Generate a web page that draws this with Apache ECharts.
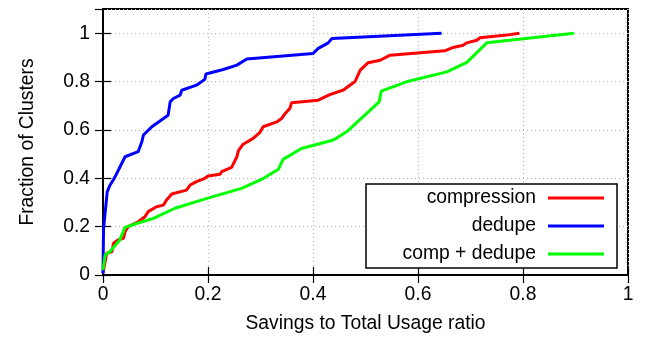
<!DOCTYPE html>
<html>
<head>
<meta charset="utf-8">
<script src="https://cdn.jsdelivr.net/npm/echarts@6/dist/echarts.min.js"></script>
<style>
html,body{margin:0;padding:0;background:#fff;}
#chart{width:645px;height:339px;}
</style>
</head>
<body>
<div id="chart"></div>
<script>
var seriesNames = ['compression', 'dedupe', 'comp + dedupe'];
var seriesColors = ['#ff0000', '#0000ff', '#00ff00'];

var compX = [0, 0.007, 0.017, 0.02, 0.029, 0.039, 0.042, 0.048, 0.067, 0.08, 0.086, 0.102, 0.115, 0.121, 0.131, 0.159, 0.166, 0.178, 0.194, 0.2, 0.223, 0.226, 0.245, 0.255, 0.258, 0.267, 0.286, 0.299, 0.305, 0.331, 0.34, 0.347, 0.356, 0.359, 0.41, 0.432, 0.458, 0.48, 0.49, 0.505, 0.528, 0.547, 0.651, 0.667, 0.686, 0.693, 0.712, 0.718, 0.769, 0.793];
var compY = [0.007, 0.09, 0.096, 0.131, 0.145, 0.152, 0.179, 0.2, 0.22, 0.241, 0.262, 0.282, 0.289, 0.31, 0.335, 0.351, 0.372, 0.386, 0.4, 0.409, 0.417, 0.427, 0.445, 0.489, 0.514, 0.541, 0.565, 0.59, 0.613, 0.633, 0.647, 0.668, 0.689, 0.712, 0.723, 0.746, 0.765, 0.8, 0.847, 0.878, 0.888, 0.909, 0.927, 0.941, 0.95, 0.96, 0.971, 0.981, 0.992, 1.0];

var dedupeX = [0, 0.001, 0.008, 0.013, 0.02, 0.023, 0.042, 0.067, 0.074, 0.077, 0.093, 0.096, 0.124, 0.128, 0.134, 0.147, 0.15, 0.178, 0.194, 0.196, 0.229, 0.255, 0.274, 0.4, 0.41, 0.429, 0.436, 0.645];
var dedupeY = [0.007, 0.19, 0.344, 0.37, 0.395, 0.406, 0.489, 0.51, 0.551, 0.579, 0.613, 0.62, 0.661, 0.716, 0.73, 0.744, 0.764, 0.785, 0.809, 0.831, 0.85, 0.868, 0.893, 0.916, 0.937, 0.96, 0.978, 1.0];

var bothX = [0, 0.004, 0.013, 0.032, 0.042, 0.064, 0.096, 0.137, 0.198, 0.264, 0.302, 0.334, 0.343, 0.378, 0.439, 0.464, 0.509, 0.526, 0.53, 0.578, 0.655, 0.693, 0.731, 0.897];
var bothY = [0.02, 0.083, 0.096, 0.145, 0.197, 0.213, 0.234, 0.276, 0.317, 0.358, 0.395, 0.437, 0.478, 0.523, 0.558, 0.592, 0.682, 0.716, 0.76, 0.799, 0.84, 0.879, 0.96, 1.0];

var xTickLabels = ['0', '0.2', '0.4', '0.6', '0.8', '1'];
var yTickLabels = ['0', '0.2', '0.4', '0.6', '0.8', '1'];

function pairs(xs, ys) {
  var out = [];
  for (var i = 0; i < xs.length; i++) out.push([xs[i], ys[i]]);
  return out;
}
var allX = [compX, dedupeX, bothX];
var allY = [compY, dedupeY, bothY];

var FONT = '"Liberation Sans", Arial, sans-serif';
var FS = 19.3;

function labelFor(list, v) {
  var idx = Math.round(v / 0.2);
  if (Math.abs(v - idx * 0.2) > 1e-6) return '';
  return list[idx] !== undefined ? list[idx] : '';
}

var tickStyle = { show: true, inside: true, length: 8, lineStyle: { color: '#000', width: 1.2 } };
var gridLine = { show: true, lineStyle: { color: '#b4b4b4', width: 1, type: [1, 3] } };

var chart = echarts.init(document.getElementById('chart'), null, { renderer: 'canvas' });
chart.setOption({
  animation: false,
  backgroundColor: '#fff',
  textStyle: { fontFamily: FONT },
  grid: { left: 103, right: 17, top: 9, bottom: 64, show: true, borderColor: '#000', borderWidth: 2, backgroundColor: 'transparent' },
  xAxis: [{
    type: 'value', min: 0, max: 1, interval: 0.2, position: 'bottom',
    name: 'Savings to Total Usage ratio', nameLocation: 'middle', nameGap: 39,
    nameTextStyle: { fontSize: FS, color: '#000', fontFamily: FONT },
    axisLine: { show: true, lineStyle: { color: '#000', width: 2 } },
    axisTick: tickStyle,
    axisLabel: { fontSize: FS, color: '#000', fontFamily: FONT, margin: 10, formatter: function (v) { return labelFor(xTickLabels, v); } },
    splitLine: gridLine
  }, {
    type: 'value', min: 0, max: 1, interval: 0.2, position: 'top',
    axisLine: { show: true, lineStyle: { color: '#000', width: 2 } },
    axisTick: tickStyle, axisLabel: { show: false }, splitLine: { show: false }
  }],
  yAxis: [{
    type: 'value', min: 0, max: 1.1, interval: 0.2, position: 'left',
    name: 'Fraction of Clusters', nameLocation: 'middle', nameGap: 66,
    nameTextStyle: { fontSize: FS, color: '#000', fontFamily: FONT },
    axisLine: { show: true, lineStyle: { color: '#000', width: 2 } },
    axisTick: tickStyle,
    axisLabel: { fontSize: FS, color: '#000', fontFamily: FONT, margin: 13, showMaxLabel: false, formatter: function (v) { return v > 1.05 ? '' : labelFor(yTickLabels, v); } },
    splitLine: gridLine
  }, {
    type: 'value', min: 0, max: 1.1, interval: 0.2, position: 'right',
    axisLine: { show: true, lineStyle: { color: '#000', width: 2 } },
    axisTick: tickStyle, axisLabel: { show: false }, splitLine: { show: false }
  }],
  legend: {
    show: true, orient: 'vertical', left: 366, top: 184,
    align: 'right', itemWidth: 56, itemHeight: 3, itemGap: 8, icon: 'rect',
    padding: [4, 13, 4, 13],
    backgroundColor: '#fff', borderColor: '#000', borderWidth: 1.5, borderRadius: 0,
    textStyle: { fontSize: FS, color: '#000', fontFamily: FONT, width: 157, align: 'right', lineHeight: 20, padding: [0, 7, 0, 0] },
    data: seriesNames
  },
  series: seriesNames.map(function (n, i) {
    return {
      name: n, type: 'line', xAxisIndex: 0, yAxisIndex: 0,
      data: pairs(allX[i], allY[i]),
      showSymbol: false, symbol: 'none',
      lineStyle: { color: seriesColors[i], width: 3 },
      itemStyle: { color: seriesColors[i] },
      z: 3 + i
    };
  })
});
</script>
</body>
</html>
